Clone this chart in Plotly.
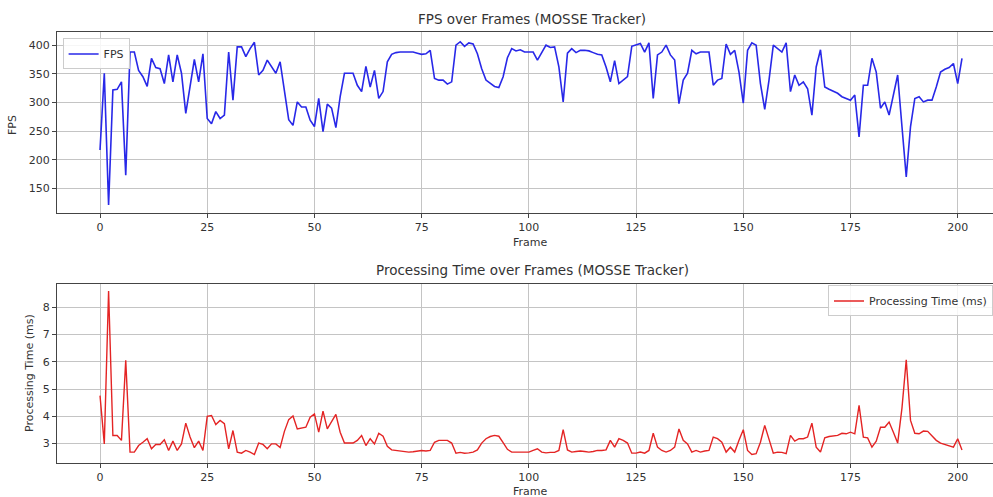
import plotly.graph_objects as go

frames = list(range(202))

fps = [217, 351, 121, 322, 323, 336, 173, 388, 388, 356,
       345, 328, 377, 361, 359, 333, 383, 336, 383, 351,
       281, 327, 375, 336, 385, 272, 263, 284, 272, 278,
       388, 304, 397, 397, 380, 394, 405, 348, 356, 374,
       362, 351, 371, 316, 270, 260, 301, 292, 292, 269,
       258, 307, 249, 297, 290, 256, 310, 351, 351, 351,
       330, 319, 363, 327, 356, 307, 319, 371, 384, 387,
       388, 388, 389, 388, 386, 384, 385, 391, 342, 339,
       339, 332, 336, 400, 406, 398, 404, 402, 385, 359,
       339, 333, 328, 326, 345, 378, 394, 390, 392, 388,
       388, 388, 374, 388, 400, 396, 397, 362, 301, 386,
       394, 387, 391, 391, 390, 387, 384, 383, 362, 336,
       373, 333, 339, 345, 398, 400, 403, 388, 404, 307,
       383, 388, 400, 383, 374, 298, 339, 351, 391, 385,
       388, 388, 388, 330, 339, 342, 402, 384, 391, 353,
       299, 391, 404, 400, 333, 288, 339, 400, 394, 388,
       404, 319, 348, 330, 336, 324, 278, 362, 392, 327,
       323, 319, 316, 310, 307, 304, 313, 240, 330, 330,
       377, 353, 290, 301, 278, 313, 348, 258, 170, 258,
       307, 310, 301, 304, 304, 327, 353, 358, 361, 368,
       333, 377]

proc_time = [4.76, 2.99, 8.59, 3.30, 3.30, 3.12, 6.05, 2.69, 2.69, 2.93,
             3.05, 3.18, 2.81, 2.97, 2.97, 3.14, 2.75, 3.09, 2.75, 2.99,
             3.75, 3.24, 2.85, 3.09, 2.75, 4.00, 4.03, 3.70, 3.85, 3.73,
             2.81, 3.48, 2.69, 2.65, 2.75, 2.69, 2.60, 3.02, 2.97, 2.81,
             2.99, 2.99, 2.86, 3.45, 3.88, 4.01, 3.54, 3.58, 3.60, 3.97,
             4.09, 3.42, 4.19, 3.54, 3.79, 4.07, 3.42, 3.02, 3.02, 3.02,
             3.12, 3.30, 2.93, 3.18, 2.99, 3.38, 3.27, 2.90, 2.77, 2.75,
             2.73, 2.71, 2.69, 2.70, 2.73, 2.75, 2.73, 2.75, 3.05, 3.12,
             3.12, 3.12, 3.02, 2.65, 2.68, 2.65, 2.66, 2.69, 2.77, 3.02,
             3.18, 3.26, 3.30, 3.27, 3.04, 2.79, 2.69, 2.69, 2.69, 2.69,
             2.69, 2.75, 2.81, 2.69, 2.66, 2.68, 2.68, 2.75, 3.51, 2.77,
             2.69, 2.71, 2.73, 2.71, 2.69, 2.71, 2.75, 2.75, 2.77, 3.12,
             2.87, 3.18, 3.12, 3.02, 2.65, 2.65, 2.69, 2.65, 2.75, 3.38,
             2.87, 2.75, 2.69, 2.75, 2.87, 3.54, 3.12, 2.99, 2.69, 2.75,
             2.69, 2.73, 2.75, 3.24, 3.18, 3.05, 2.69, 2.87, 2.69, 3.12,
             3.51, 2.75, 2.60, 2.63, 3.05, 3.67, 3.12, 2.65, 2.69, 2.68,
             2.63, 3.30, 3.09, 3.18, 3.18, 3.24, 3.75, 2.87, 2.69, 3.21,
             3.26, 3.29, 3.30, 3.38, 3.36, 3.42, 3.36, 4.40, 3.24, 3.21,
             2.87, 3.09, 3.60, 3.60, 3.79, 3.42, 3.02, 4.30, 6.07, 3.85,
             3.38, 3.36, 3.46, 3.45, 3.30, 3.12, 3.02, 2.97, 2.90, 2.87,
             3.18, 2.77]

x_ticks = [0, 25, 50, 75, 100, 125, 150, 175, 200]
fps_ticks = [150, 200, 250, 300, 350, 400]
pt_ticks = [3, 4, 5, 6, 7, 8]

FONT = "DejaVu Sans"
TXT = "#333333"

fig = go.Figure()
fig.add_trace(go.Scatter(x=frames, y=fps, mode="lines", name="FPS",
                         line=dict(color="#2828e8", width=1.6),
                         xaxis="x", yaxis="y", legend="legend"))
fig.add_trace(go.Scatter(x=frames, y=proc_time, mode="lines", name="Processing Time (ms)",
                         line=dict(color="#e42424", width=1.4),
                         xaxis="x2", yaxis="y2", legend="legend2"))

ax_common = dict(showgrid=True, gridcolor="#c4c4c4", gridwidth=1,
                 showline=True, linecolor="#444444", linewidth=1,
                 ticks="outside", ticklen=4, tickcolor="#444444",
                 tickfont=dict(family=FONT, size=11, color=TXT),
                 zeroline=False)

M_T, M_B, M_L = 32, 34, 57
W, H = 993, 497


def py(pix):
    # pixel y (from top) -> paper y
    return (H - M_B - pix) / (H - M_T - M_B)


def px(pix):
    # pixel x (from left) -> paper x
    return (pix - M_L) / (W - M_L)


def ann(text, x, y, size=11, angle=0):
    return dict(text=text, x=px(x), y=py(y), xref="paper", yref="paper",
                xanchor="center", yanchor="middle", showarrow=False, textangle=angle,
                font=dict(family=FONT, size=size, color=TXT))


xr = [-10.03, 208.23]
fig.update_layout(
    width=W, height=H,
    margin=dict(l=M_L, r=0, t=M_T, b=M_B),
    paper_bgcolor="white", plot_bgcolor="white",
    xaxis=dict(domain=[0, 1], anchor="y", range=xr, tickvals=x_ticks,
               mirror=True, **ax_common),
    yaxis=dict(domain=[0.58, 1], anchor="x", range=[107, 423], tickvals=fps_ticks,
               **ax_common),
    xaxis2=dict(domain=[0, 1], anchor="y2", range=xr, tickvals=x_ticks,
                mirror=True, **ax_common),
    yaxis2=dict(domain=[0, 0.416], anchor="x2", range=[2.29, 8.86], tickvals=pt_ticks,
                **ax_common),
    showlegend=True,
    legend=dict(x=0.006, y=0.985, xanchor="left", yanchor="top",
                bgcolor="rgba(255,255,255,0.85)", bordercolor="#cccccc", borderwidth=1,
                font=dict(family=FONT, size=11, color=TXT), itemwidth=30),
    legend2=dict(x=0.824, y=0.412, xanchor="left", yanchor="top",
                 bgcolor="rgba(255,255,255,0.85)", bordercolor="#cccccc", borderwidth=1,
                 font=dict(family=FONT, size=11, color=TXT), itemwidth=30),
    annotations=[
        ann("FPS over Frames (MOSSE Tracker)", 532, 19, size=13.5),
        ann("Processing Time over Frames (MOSSE Tracker)", 532, 270, size=13.5),
        ann("Frame", 530, 243, size=11),
        ann("Frame", 530, 492, size=11),
        ann("FPS", 12, 125, size=11, angle=-90),
        ann("Processing Time (ms)", 29, 373, size=11, angle=-90),
    ],
)

fig.write_html("out.html")
